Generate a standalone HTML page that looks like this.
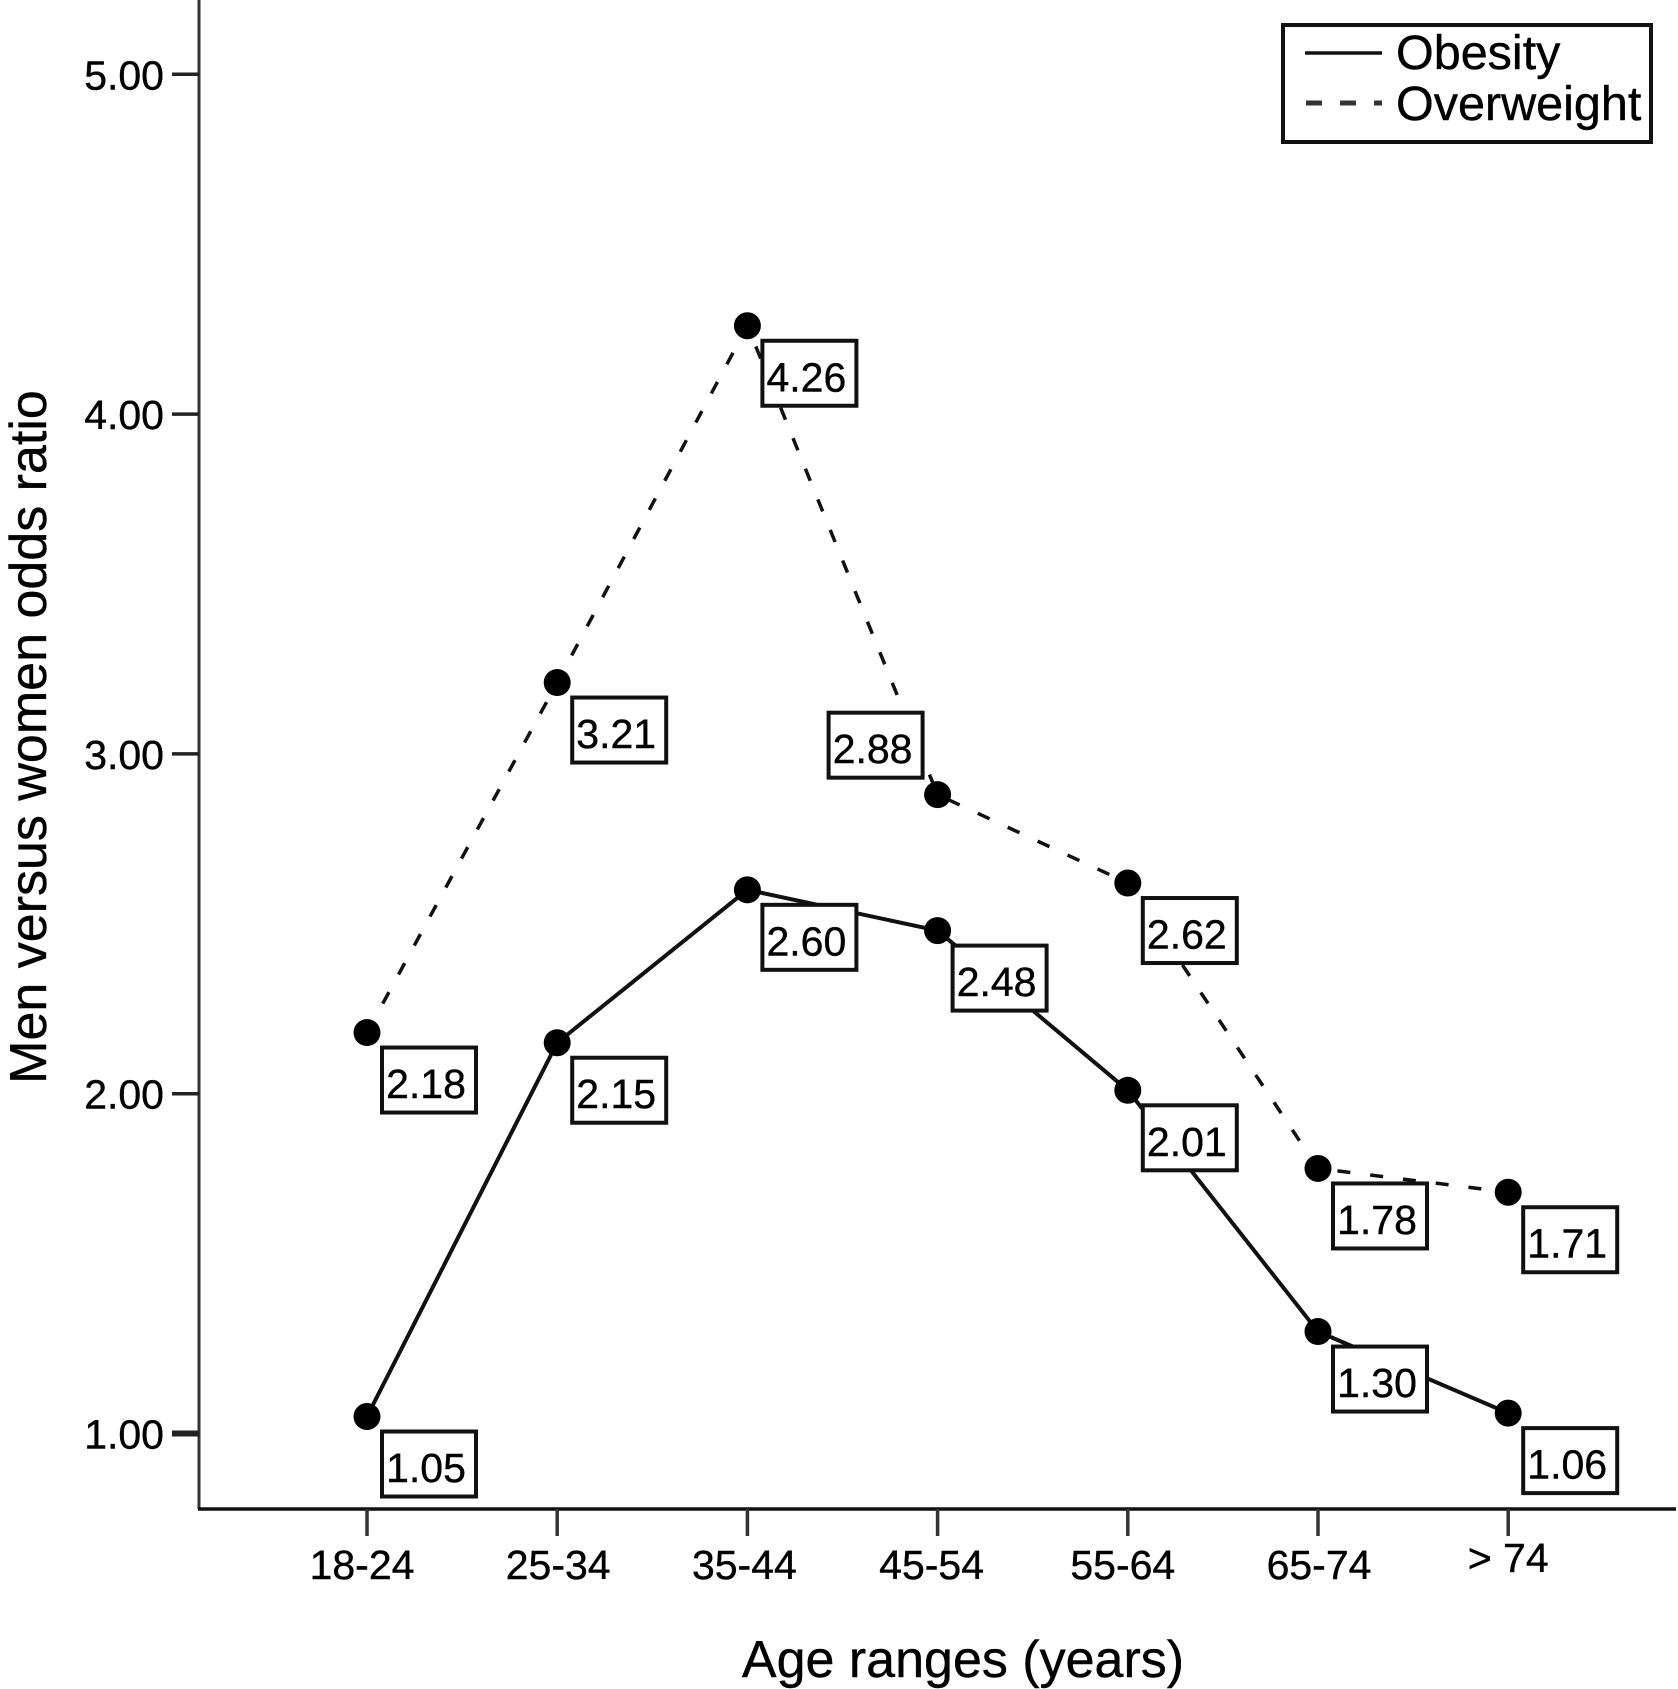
<!DOCTYPE html>
<html lang="en">
<head>
<meta charset="utf-8">
<title>Men versus women odds ratio by age range</title>
<style>
  html, body { margin: 0; padding: 0; background: #fff; }
  svg { display: block; font-family: "Liberation Sans", Arial, sans-serif; }
</style>
</head>
<body>
<svg id="chart" xmlns="http://www.w3.org/2000/svg" width="1678" height="1689" viewBox="0 0 1678 1689">
  <rect x="0" y="0" width="1678" height="1689" fill="#fff"/>
  <text transform="translate(46,737) rotate(-90)" text-anchor="middle" font-size="52" fill="#000" stroke="#000" stroke-width="0.4">Men versus women odds ratio</text>
  <text x="963" y="1677" text-anchor="middle" font-size="52" fill="#000" stroke="#000" stroke-width="0.4">Age ranges (years)</text>
  <g id="plot"></g>
  <g>
    <rect x="1283" y="25" width="368" height="117" fill="#fff" stroke="#111" stroke-width="4"/>
    <line x1="1305" y1="53" x2="1382" y2="53" stroke="#111" stroke-width="3.5"/>
    <text x="1396" y="69" font-size="48.5" fill="#000" stroke="#000" stroke-width="0.4">Obesity</text>
    <line x1="1306" y1="103" x2="1382" y2="103" stroke="#333" stroke-width="5" stroke-dasharray="16 18"/>
    <text x="1396" y="120" font-size="48.5" fill="#000" stroke="#000" stroke-width="0.4">Overweight</text>
  </g>
</svg>
<script>
const categories = ["18-24", "25-34", "35-44", "45-54", "55-64", "65-74", "> 74"];
const obesityValues = [1.05, 2.15, 2.60, 2.48, 2.01, 1.30, 1.06];
const overweightValues = [2.18, 3.21, 4.26, 2.88, 2.62, 1.78, 1.71];
const yTickValues = [1, 2, 3, 4, 5];
const yTickLabels = ["1.00", "2.00", "3.00", "4.00", "5.00"];

const NS = "http://www.w3.org/2000/svg";
const plot = document.getElementById("plot");
const AXIS_X = 199, AXIS_Y = 1509, AXIS_RIGHT = 1676;

function xScale(i) { return 367 + i * 190.2; }
function yScale(v) { return 1433.5 - (v - 1) * 339.8; }

function make(tag, attrs, text) {
  const el = document.createElementNS(NS, tag);
  for (const k in attrs) el.setAttribute(k, attrs[k]);
  if (text !== undefined) el.textContent = text;
  plot.appendChild(el);
  return el;
}

// axes
let yAxisLine = make("line", { x1: AXIS_X, y1: 0, x2: AXIS_X, y2: AXIS_Y, stroke: "#333", "stroke-width": 3 });


let xAxisLine = make("line", { x1: AXIS_X - 1, y1: AXIS_Y, x2: AXIS_RIGHT, y2: AXIS_Y, stroke: "#111", "stroke-width": 3.5 });



yTickValues.forEach(function (v, i) {
  const y = yScale(v);
  const tick = make("line", { x1: 172, y1: y, x2: AXIS_X, y2: y, stroke: "#222", "stroke-width": i === 0 ? 6 : 3.5 });
  
  
  const label = make("text", { x: 164, y: y + 15, "text-anchor": "end", "font-size": 41, fill: "#000", stroke: "#000", "stroke-width": 0.4 }, yTickLabels[i]);
  
  
});

categories.forEach(function (c, i) {
  const x = xScale(i);
  const tick = make("line", { x1: x, y1: AXIS_Y, x2: x, y2: 1536, stroke: "#333", "stroke-width": 3.5 });
  
  
  const isLast = i === categories.length - 1;
  const nudge = i === 0 ? -5 : i === 2 ? -3 : i === 3 ? -6 : i === 4 ? -5 : 1;
  const label = make("text", { x: x + (isLast ? 0 : nudge), y: isLast ? 1572 : 1579, "text-anchor": "middle", "font-size": 41, fill: "#000", stroke: "#000", "stroke-width": 0.4 }, c);
  
  
});

function linePoints(values) {
  return values.map(function (v, i) { return xScale(i) + "," + yScale(v); }).join(" ");
}

// series lines
const obesityLine = make("polyline", { points: linePoints(obesityValues), fill: "none", stroke: "#111", "stroke-width": 4 });


const overweightLine = make("polyline", { points: linePoints(overweightValues), fill: "none", stroke: "#111", "stroke-width": 3.5, "stroke-dasharray": "13 20" });



// markers
obesityValues.forEach(function (v, i) {
  const dot = make("circle", { cx: xScale(i), cy: yScale(v), r: 13.5, fill: "#000" });
  
  
});
overweightValues.forEach(function (v, i) {
  const dot = make("circle", { cx: xScale(i), cy: yScale(v), r: 13.5, fill: "#000" });
  
  
});

// value label boxes: lower right of the point, except where the box would sit on the line
function drawValueBox(v, i, above) {
  const w = 94, h = 65;
  const px = xScale(i), py = yScale(v);
  const bx = above ? px - 15 - w : px + 15;
  const by = above ? py - 17 - h : py + 15;
  const box = make("rect", { x: bx, y: by, width: w, height: h, fill: "#fff", stroke: "#111", "stroke-width": 4 });
  
  
  const label = make("text", { x: bx + w / 2 - 3, y: by + h / 2 + 18, "text-anchor": "middle", "font-size": 41, fill: "#000", stroke: "#000", "stroke-width": 0.4 }, v.toFixed(2));
  
  
}
obesityValues.forEach(function (v, i) { drawValueBox(v, i, false); });
overweightValues.forEach(function (v, i) { drawValueBox(v, i, i === 3); });
</script>
</body>
</html>
